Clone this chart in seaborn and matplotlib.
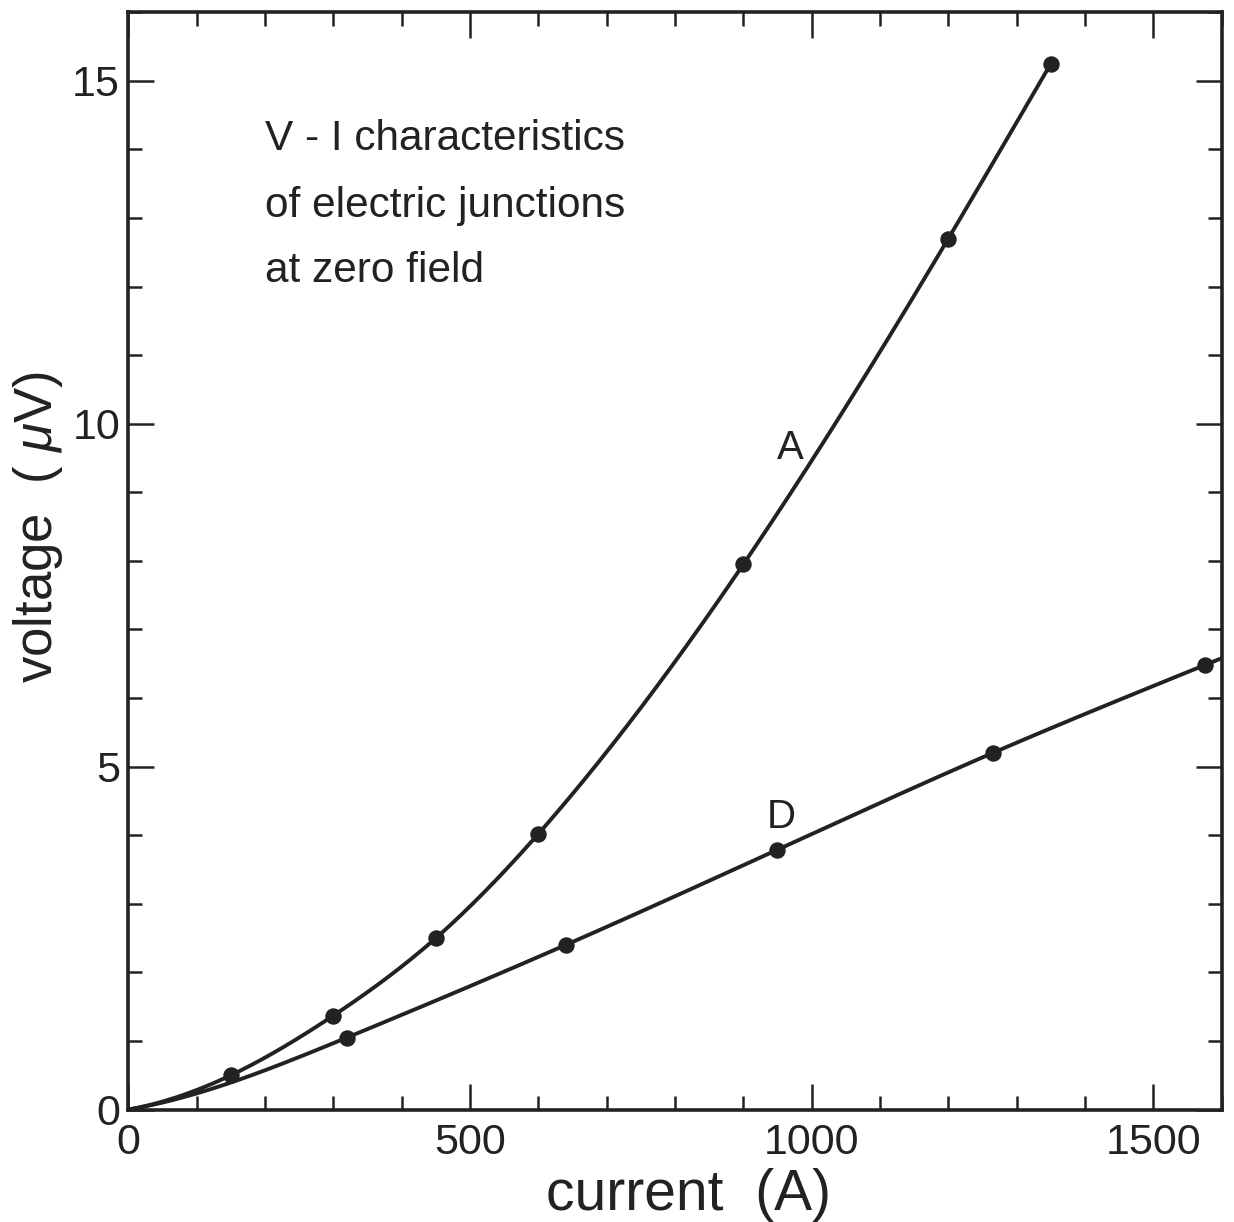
import numpy as np
import pandas as pd
import matplotlib
matplotlib.use("Agg")
import matplotlib.pyplot as plt
import seaborn as sns
from matplotlib.ticker import MultipleLocator

# Measured points (current in A, voltage in microvolts)
current_a = [150, 300, 450, 600, 900, 1200, 1350]
voltage_a = [0.50, 1.37, 2.50, 4.02, 7.95, 12.70, 15.25]

current_d = [320, 640, 950, 1265, 1575]
voltage_d = [1.05, 2.40, 3.79, 5.20, 6.48]

x_ticks = [0, 500, 1000, 1500]
y_ticks = [0, 5, 10, 15]

INK = "#222222"


def smooth_curve(x, y, xs, start_slope):
    """Cubic spline through the points, with a given slope at the first
    point, a free (natural) end, and a straight continuation past the end."""
    x = np.asarray(x, float)
    y = np.asarray(y, float)
    n = len(x)
    h = np.diff(x)
    A = np.zeros((n, n))
    r = np.zeros(n)
    A[0, 0] = 2 * h[0]
    A[0, 1] = h[0]
    r[0] = 6 * ((y[1] - y[0]) / h[0] - start_slope)
    A[-1, -1] = 1.0
    for i in range(1, n - 1):
        A[i, i - 1] = h[i - 1]
        A[i, i] = 2 * (h[i - 1] + h[i])
        A[i, i + 1] = h[i]
        r[i] = 6 * ((y[i + 1] - y[i]) / h[i] - (y[i] - y[i - 1]) / h[i - 1])
    M = np.linalg.solve(A, r)
    out = np.empty(len(xs))
    for k, xv in enumerate(xs):
        if xv > x[-1]:
            i = n - 2
            slope = (y[i + 1] - y[i]) / h[i] + h[i] * (2 * M[i + 1] + M[i]) / 6
            out[k] = y[-1] + slope * (xv - x[-1])
            continue
        i = min(max(np.searchsorted(x, xv) - 1, 0), n - 2)
        t1 = x[i + 1] - xv
        t0 = xv - x[i]
        out[k] = (M[i] * t1 ** 3 / (6 * h[i]) + M[i + 1] * t0 ** 3 / (6 * h[i])
                  + (y[i] / h[i] - M[i] * h[i] / 6) * t1
                  + (y[i + 1] / h[i] - M[i + 1] * h[i] / 6) * t0)
    return out


# Both curves leave the origin with a shallow slope
xa_line = np.linspace(0, current_a[-1], 500)
ya_line = smooth_curve([0] + current_a, [0] + voltage_a, xa_line, 0.0018)
xd_line = np.linspace(0, 1600, 500)
yd_line = smooth_curve([0] + current_d, [0] + voltage_d, xd_line, 0.0017)

curves = pd.concat([
    pd.DataFrame({"current": xa_line, "voltage": ya_line, "junction": "A"}),
    pd.DataFrame({"current": xd_line, "voltage": yd_line, "junction": "D"}),
])
points = pd.concat([
    pd.DataFrame({"current": current_a, "voltage": voltage_a, "junction": "A"}),
    pd.DataFrame({"current": current_d, "voltage": voltage_d, "junction": "D"}),
])

sns.set_theme(style="ticks")
plt.rcParams["font.family"] = ["Liberation Sans", "DejaVu Sans"]
plt.rcParams["mathtext.fontset"] = "custom"
plt.rcParams["mathtext.it"] = "Liberation Sans:italic"
plt.rcParams["mathtext.rm"] = "Liberation Sans"

fig = plt.figure(figsize=(12.34, 12.22), dpi=100)
ax = fig.add_axes([0.104, 0.092, 0.886, 0.898])

sns.lineplot(data=curves, x="current", y="voltage", units="junction",
             estimator=None, sort=False, color=INK, linewidth=2.8, ax=ax,
             legend=False)
sns.scatterplot(data=points, x="current", y="voltage", color=INK, s=140,
                edgecolor=INK, linewidth=0, ax=ax, legend=False, zorder=5)

ax.set_xlim(0, 1600)
ax.set_ylim(0, 16)
ax.set_xticks(x_ticks)
ax.set_yticks(y_ticks)
ax.xaxis.set_minor_locator(MultipleLocator(100))
ax.yaxis.set_minor_locator(MultipleLocator(1))

ax.tick_params(which="both", direction="in", top=True, right=True,
               color=INK, width=1.8, labelsize=31, labelcolor=INK)
ax.tick_params(axis="y", pad=6)
ax.tick_params(axis="x", pad=10)
ax.tick_params(which="major", length=19)
ax.tick_params(which="minor", length=10)
for sp in ax.spines.values():
    sp.set_visible(True)
    sp.set_linewidth(2.6)
    sp.set_color(INK)

ax.set_xlabel("")
ax.set_ylabel("")
fig.text(688 / 1234, 1 - 1195 / 1222, "current  (A)", fontsize=41,
         color=INK, ha="center", va="center")
fig.text(38 / 1234, 1 - 527 / 1222, r"voltage  ( $\mu$V)", fontsize=38,
         color=INK, ha="center", va="center", rotation=90)

note_kw = dict(transform=ax.transAxes, fontsize=30.5, color=INK,
               ha="left", va="baseline")
ax.text(0.125, 0.874, "V - I characteristics", **note_kw)
ax.text(0.125, 0.813, "of electric junctions", **note_kw)
ax.text(0.125, 0.754, "at zero field", **note_kw)

ax.text(969, 9.64, "A", fontsize=29, color=INK, ha="center", va="center")
ax.text(956, 4.27, "D", fontsize=29, color=INK, ha="center", va="center")

fig.savefig("out.png", dpi=100, facecolor="white")
